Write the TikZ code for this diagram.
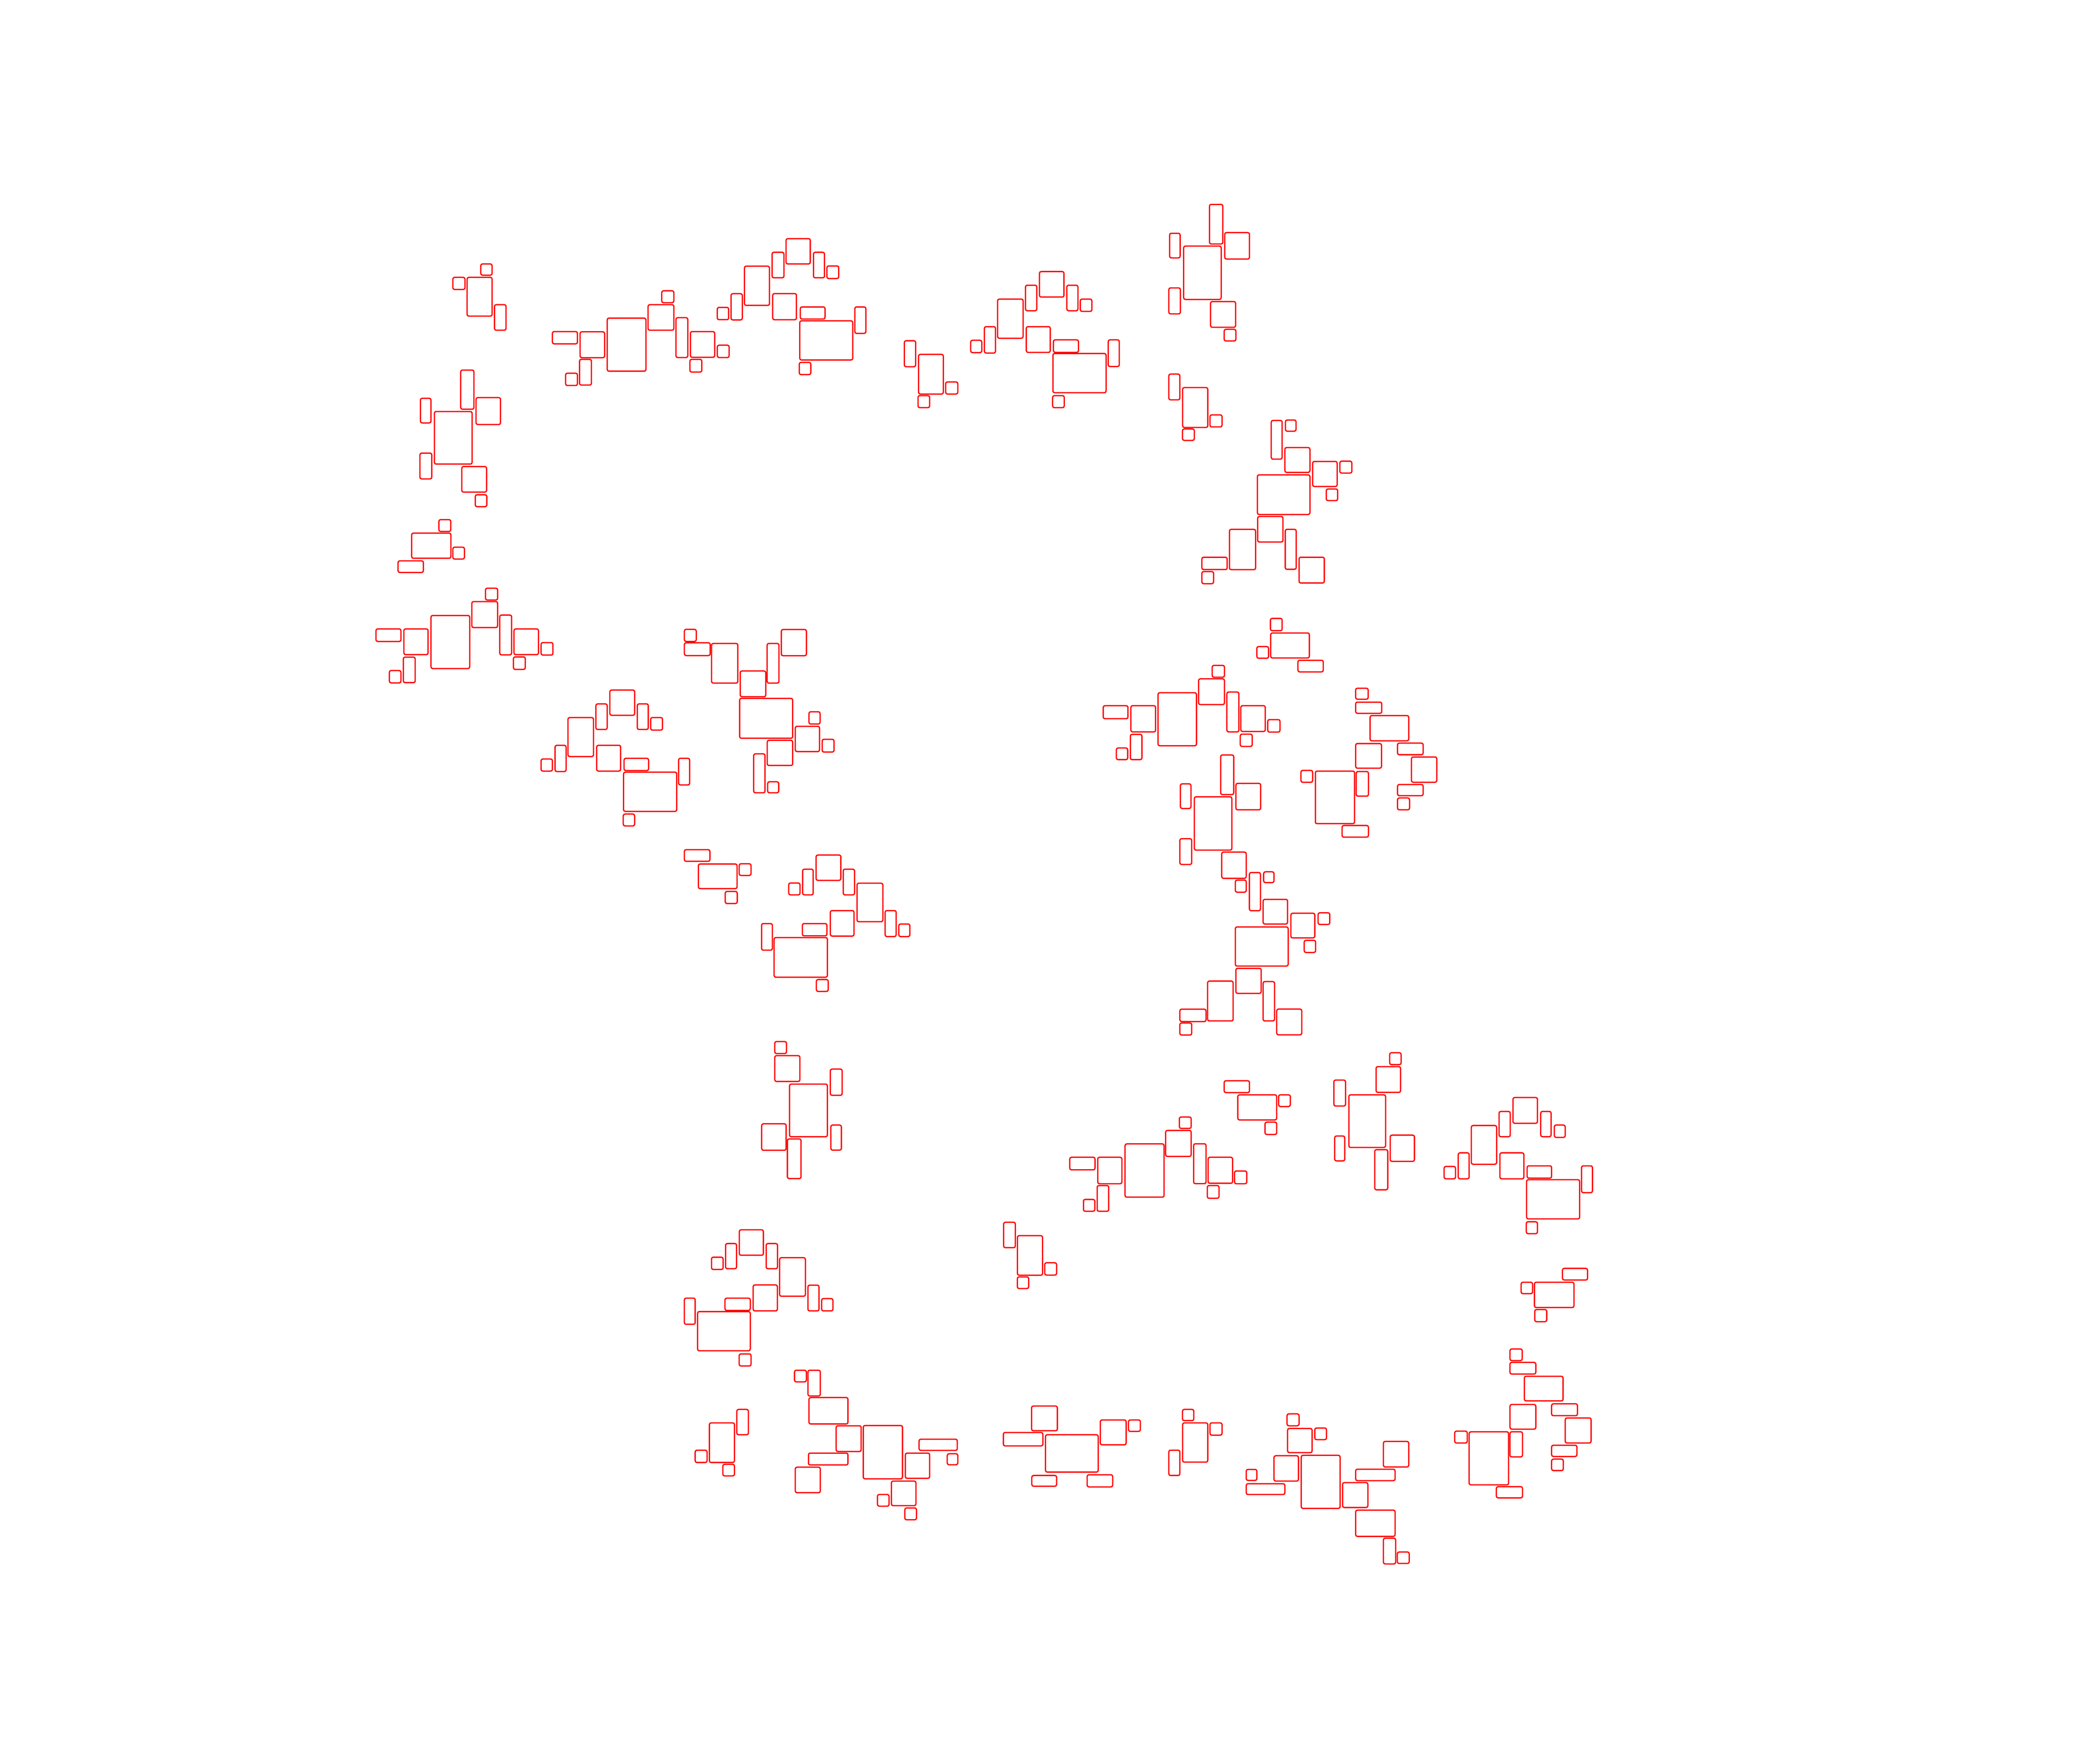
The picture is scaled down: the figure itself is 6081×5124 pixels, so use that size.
\documentclass[tikz,border=0pt]{standalone}
\tikzset{
  box/.style={draw=red, line width=1.05pt, rounded corners=1.4pt},
  zA/.style={shift={(#1)}, xscale=0.7653, yscale=0.6505},
  zB/.style={shift={(#1)}, xscale=0.7908, yscale=0.6505}
}
\def\Bx(#1,#2,#3,#4){\draw[box] (#1,#2) rectangle (#3,#4);}
\begin{document}
\begin{tikzpicture}[x=0.1mm,y=-0.1mm]
\fill[white] (0,0) rectangle (6081,5124);
\useasboundingbox (0,0) rectangle (6081,5124);
% crop 1
\begin{scope}[zA={1080,560}]
\Bx(414,318,457,368)
\Bx(308,378,354,432)
\Bx(362,378,457,551)
\Bx(466,500,510,614)
\Bx(686,620,781,675)
\Bx(791,621,884,737)
\Bx(894,560,1041,797)
\Bx(1049,500,1147,614)
\Bx(1101,438,1147,491)
\Bx(1155,558,1200,736)
\Bx(1210,620,1302,735)
\Bx(1312,681,1357,736)
\Bx(1208,744,1253,801)
\Bx(789,744,834,859)
\Bx(736,806,781,861)
\Bx(1312,512,1355,567)
\Bx(1364,451,1407,568)
\Bx(1415,328,1510,503)
\Bx(1520,266,1565,380)
\Bx(338,792,388,967)
\Bx(185,918,225,1028)
\Bx(396,915,489,1035)
\Bx(238,977,381,1212)
\Bx(183,1163,228,1278)
\Bx(342,1223,436,1337)
\Bx(393,1349,437,1402)
\Bx(255,1460,300,1513)
\end{scope}
% crop 2
\begin{scope}[zA={2280,560}]
\Bx(5,205,97,318)
\Bx(109,266,151,380)
\Bx(160,327,205,383)
\Bx(59,510,153,564)
\Bx(57,572,258,747)
\Bx(266,510,308,628)
\Bx(55,758,99,812)
\Bx(454,661,497,777)
\Bx(508,722,602,899)
\Bx(611,845,657,899)
\Bx(506,906,550,960)
\Bx(808,475,905,650)
\Bx(914,413,957,527)
\Bx(967,352,1060,466)
\Bx(1071,413,1113,527)
\Bx(1122,475,1166,530)
\Bx(758,598,800,716)
\Bx(706,659,748,714)
\Bx(917,598,1008,713)
\Bx(1020,657,1115,713)
\Bx(1018,718,1220,893)
\Bx(1228,657,1270,776)
\Bx(1017,906,1061,960)
\Bx(1461,181,1501,291)
\Bx(1458,425,1502,541)
\Bx(1458,810,1500,925)
\Bx(1510,1055,1555,1106)
\end{scope}
% crop 3
\begin{scope}[zB={3480,560}]
\Bx(43,52,92,229)
\Bx(99,178,190,296)
\Bx(47,486,139,601)
\Bx(97,610,140,662)
\Bx(45,992,89,1046)
\Bx(270,1017,310,1190)
\Bx(322,1015,361,1065)
\Bx(320,1138,412,1249)
\Bx(422,1200,512,1312)
\Bx(522,1199,566,1252)
\Bx(472,1323,514,1375)
\Bx(219,1260,412,1437)
\Bx(220,1446,313,1560)
\end{scope}
% crop 4
\begin{scope}[zA={1080,1580}]
\Bx(308,15,352,68)
\Bx(100,76,196,128)
\Bx(432,198,478,251)
\Bx(380,258,478,374)
\Bx(225,320,372,557)
\Bx(16,380,111,436)
\Bx(122,380,214,495)
\Bx(486,318,531,496)
\Bx(540,380,633,495)
\Bx(643,441,688,497)
\Bx(538,505,583,561)
\Bx(120,506,165,620)
\Bx(67,566,111,621)
\Bx(904,653,998,766)
\Bx(851,715,894,829)
\Bx(1008,715,1050,829)
\Bx(1059,776,1104,832)
\Bx(745,776,842,950)
\Bx(696,900,738,1017)
\Bx(643,961,686,1015)
\Bx(854,900,945,1015)
\Bx(958,958,1051,1013)
\Bx(956,1020,1158,1195)
\Bx(1165,958,1207,1077)
\Bx(955,1207,998,1260)
\Bx(1187,382,1232,436)
\Bx(1187,442,1285,499)
\Bx(1290,445,1390,622)
\Bx(1399,568,1496,683)
\Bx(1501,445,1546,622)
\Bx(1450,938,1493,1112)
\Bx(1503,1063,1545,1112)
\Bx(1187,1366,1284,1418)
\Bx(1240,1430,1387,1540)
\Bx(1395,1429,1440,1481)
\end{scope}
% crop 5
\begin{scope}[zA={2280,1580}]
\Bx(40,815,132,928)
\Bx(92,750,134,805)
\Bx(142,873,187,930)
\Bx(1209,723,1303,781)
\Bx(1314,723,1408,840)
\Bx(1417,665,1563,902)
\Bx(1312,851,1356,964)
\Bx(1259,912,1302,964)
\Bx(1502,1072,1542,1182)
\Bx(1500,1317,1545,1432)
\Bx(15,1515,58,1568)
\Bx(68,1453,108,1568)
\Bx(119,1390,213,1503)
\Bx(222,1453,265,1568)
\end{scope}
% crop 6
\begin{scope}[zB={3480,1580}]
\Bx(15,60,108,115)
\Bx(15,124,58,178)
\Bx(372,60,465,175)
\Bx(267,333,310,388)
\Bx(268,398,410,510)
\Bx(217,459,260,511)
\Bx(368,520,461,572)
\Bx(53,543,98,596)
\Bx(3,603,98,718)
\Bx(107,662,151,840)
\Bx(158,723,248,838)
\Bx(257,785,302,841)
\Bx(156,850,200,905)
\Bx(580,645,626,694)
\Bx(580,707,676,757)
\Bx(633,767,775,880)
\Bx(580,892,675,1002)
\Bx(734,890,828,942)
\Bx(785,952,878,1065)
\Bx(379,1012,422,1065)
\Bx(432,1015,576,1250)
\Bx(582,1017,627,1127)
\Bx(734,1075,828,1125)
\Bx(734,1135,778,1188)
\Bx(530,1258,627,1310)
\Bx(84,943,132,1120)
\Bx(140,1070,231,1188)
\Bx(88,1377,178,1494)
\Bx(138,1502,178,1556)
\Bx(242,1465,280,1513)
\end{scope}
% crop 7
\begin{scope}[zA={1080,2600}]
\Bx(1480,128,1521,247)
\end{scope}
% crop 8
\begin{scope}[zA={2280,2600}]
\Bx(173,70,263,184)
\Bx(67,128,160,183)
\Bx(381,70,423,186)
\Bx(433,130,475,186)
\Bx(120,378,165,431)
\Bx(18,845,162,1080)
\Bx(173,778,218,895)
\Bx(175,1028,215,1140)
\Bx(10,1090,62,1267)
\Bx(1498,992,1543,1043)
\Bx(1446,1052,1543,1168)
\Bx(1292,1112,1440,1350)
\Bx(1082,1172,1178,1228)
\Bx(1188,1172,1280,1290)
\Bx(1186,1298,1230,1413)
\Bx(1134,1360,1177,1413)
\Bx(1500,572,1545,626)
\end{scope}
% crop 9
\begin{scope}[zB={3480,2600}]
\Bx(240,20,330,130)
\Bx(342,82,430,192)
\Bx(442,80,485,132)
\Bx(138,143,332,318)
\Bx(391,203,433,257)
\Bx(140,328,233,440)
\Bx(36,385,130,563)
\Bx(240,387,282,563)
\Bx(290,510,382,625)
\Bx(97,830,190,883)
\Bx(147,893,290,1005)
\Bx(297,893,340,945)
\Bx(247,1015,290,1070)
\Bx(705,705,747,758)
\Bx(655,767,745,882)
\Bx(500,827,543,943)
\Bx(555,893,690,1128)
\Bx(503,1077,540,1188)
\Bx(707,1073,796,1190)
\Bx(650,1138,698,1317)
\Bx(38,1172,128,1288)
\Bx(135,1233,180,1290)
\Bx(35,1298,78,1355)
\Bx(1158,905,1248,1020)
\Bx(1107,967,1148,1080)
\Bx(1260,967,1298,1080)
\Bx(1310,1028,1350,1083)
\Bx(1005,1030,1098,1203)
\Bx(957,1152,997,1268)
\Bx(905,1213,947,1268)
\Bx(1110,1152,1198,1268)
\Bx(1210,1210,1300,1265)
\Bx(1208,1272,1403,1447)
\Bx(1410,1210,1450,1330)
\Bx(1207,1460,1248,1513)
\end{scope}
% crop 10
\begin{scope}[zA={1080,3620}]
\Bx(1290,50,1334,105)
\Bx(1448,174,1540,290)
\Bx(1341,233,1437,288)
\Bx(1187,233,1228,350)
\Bx(1237,293,1437,468)
\Bx(1395,482,1440,536)
\Bx(1386,730,1430,843)
\Bx(1282,790,1377,967)
\Bx(1228,912,1273,967)
\Bx(1333,975,1377,1027)
\end{scope}
% crop 11
\begin{scope}[zA={2280,3620}]
\Bx(88,175,130,290)
\Bx(140,235,183,290)
\Bx(987,75,1032,130)
\Bx(883,138,926,190)
\Bx(37,555,82,607)
\Bx(88,555,135,670)
\Bx(92,677,240,795)
\Bx(195,803,290,918)
\Bx(298,802,447,1040)
\Bx(90,925,240,978)
\Bx(40,988,135,1102)
\Bx(458,925,550,1038)
\Bx(510,863,655,913)
\Bx(617,928,657,977)
\Bx(405,1050,498,1160)
\Bx(352,1110,396,1162)
\Bx(456,1170,500,1223)
\Bx(937,715,1035,825)
\Bx(830,833,980,893)
\Bx(990,843,1190,1010)
\Bx(1198,777,1296,888)
\Bx(1305,777,1350,828)
\Bx(938,1025,1032,1073)
\Bx(1148,1022,1245,1076)
\Bx(1510,730,1553,780)
\Bx(1458,912,1500,1025)
\end{scope}
% crop 12
\begin{scope}[zB={3480,3620}]
\Bx(45,790,89,845)
\Bx(328,750,372,803)
\Bx(330,815,420,923)
\Bx(430,813,473,865)
\Bx(280,937,370,1050)
\Bx(380,935,523,1172)
\Bx(178,998,217,1047)
\Bx(178,1062,320,1110)
\Bx(580,997,725,1048)
\Bx(682,873,775,987)
\Bx(532,1057,625,1168)
\Bx(580,1180,725,1297)
\Bx(682,1305,727,1420)
\Bx(733,1367,777,1418)
\Bx(1340,100,1432,152)
\Bx(1188,162,1230,213)
\Bx(1237,162,1382,275)
\Bx(1238,284,1282,338)
\Bx(1147,460,1192,512)
\Bx(1147,520,1242,572)
\Bx(1200,582,1342,692)
\Bx(1147,708,1242,818)
\Bx(1300,705,1395,758)
\Bx(1350,768,1445,880)
\Bx(944,827,990,880)
\Bx(997,830,1142,1067)
\Bx(1147,830,1193,942)
\Bx(1300,890,1393,940)
\Bx(1300,952,1343,1003)
\Bx(1097,1075,1193,1125)
\end{scope}
% rectangles crossing crop borders (image pixels)
\Bx(1196,1549,1310,1622)
\Bx(2245,853,2314,929)
\Bx(3439,715,3548,870)
\Bx(3436,1126,3509,1242)
\Bx(3572,1538,3648,1655)
\Bx(3734,1538,3766,1654)
\Bx(2270,1829,2343,1905)
\Bx(2149,2029,2303,2145)
\Bx(2229,2151,2303,2224)
\Bx(2107,2590,2142,2625)
\Bx(3470,2315,3579,2470)
\Bx(2490,2566,2565,2678)
\Bx(2249,2724,2404,2839)
\Bx(2251,3026,2285,3061)
\Bx(2251,3067,2324,3142)
\Bx(2213,3265,2284,3342)
\Bx(3468,3323,3504,3439)
\Bx(3428,2932,3504,2968)
\Bx(2916,3551,2950,3625)
\Bx(2956,3590,3029,3705)
\Bx(3630,2535,3662,2646)
\Bx(2148,3573,2218,3647)
\Bx(2108,3613,2140,3686)
\Bx(2226,3613,2259,3686)
\Bx(2265,3654,2340,3766)
\Bx(3436,4134,3509,4248)
\end{tikzpicture}
\end{document}
